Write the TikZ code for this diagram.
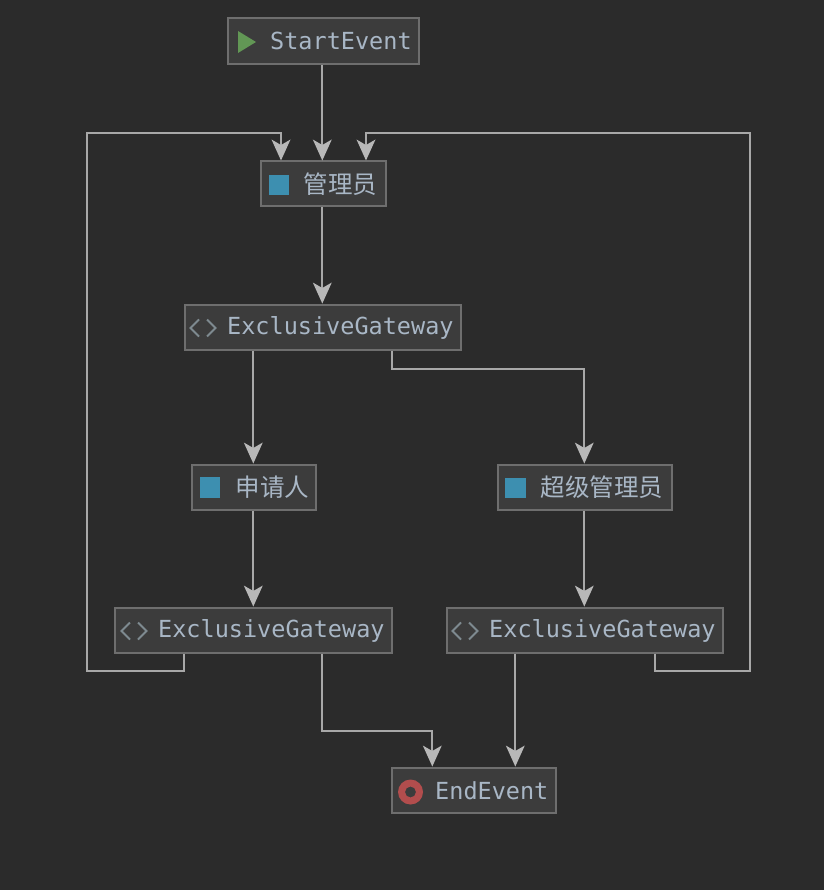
\documentclass[tikz,border=0pt]{standalone}
\usepackage{fontspec}
\setmonofont{DejaVu Sans Mono}
\newfontfamily\cjkfont{Noto Sans CJK SC}
\usetikzlibrary{arrows.meta,calc}
\definecolor{bgc}{HTML}{2B2B2B}
\definecolor{boxc}{HTML}{3C3C3C}
\definecolor{edgec}{HTML}{6E6E6E}
\definecolor{linec}{HTML}{A8A8A8}
\definecolor{headc}{HTML}{B8B8B8}
\definecolor{textc}{HTML}{A9B7C6}
\definecolor{iconc}{HTML}{7E8A90}
\definecolor{greenc}{HTML}{629755}
\definecolor{bluec}{HTML}{3D8FB0}
\definecolor{redc}{HTML}{B24D4D}
\tikzset{
  x=1pt,y=-1pt,
  flowbox/.style={draw=edgec,fill=boxc,line width=2pt,inner sep=0pt},
  lab/.style={anchor=west,inner sep=0pt,text=textc,font=\ttfamily\fontsize{23.5}{26}\selectfont},
  cjk/.style={anchor=west,inner sep=0pt,text=textc,font=\cjkfont\fontsize{24.5}{26}\selectfont},
  conn/.style={draw=linec,line width=2pt,-{Stealth[length=21pt,width=19pt,inset=5.5pt,color=headc,fill=headc,line width=0pt]}},
  chev/.style={draw=iconc,line width=1.8pt,line cap=butt},
}
\newcommand{\bx}[5]{\node[flowbox,minimum width=#4-#2-1,minimum height=#5-#3-1,anchor=center] (#1) at ({(#2+#4)/2},{(#3+#5)/2}) {};}
\newcommand{\gwicon}[2]{%
  \draw[chev] (#1+8.5,#2-8.5) -- (#1,#2) -- (#1+8.5,#2+8.5);
  \draw[chev] (#1+16.5,#2-8.5) -- (#1+25,#2) -- (#1+16.5,#2+8.5);}
\begin{document}
\begin{tikzpicture}
\useasboundingbox (0,0) rectangle (824,890);
\fill[bgc] (0,0) rectangle (824,890);
% free bend points of the connectors
\coordinate (la) at (87.2,671);
\coordinate (lb) at (87.2,133);
\coordinate (ra) at (750,671);
\coordinate (rb) at (750,133);
% boxes
\bx{start}{227}{18}{419}{65}
\bx{admin}{260}{161}{386}{207}
\bx{gwa}{184}{304}{461}{350}
\bx{appl}{191}{464}{316}{510}
\bx{sup}{497}{464}{672}{510}
\bx{gwb}{114}{607}{392}{653}
\bx{gwc}{446}{607}{723}{653}
\bx{endn}{391}{767}{556}{813}
% connectors
\draw[conn] (322.3,0 |- start.south) -- (322.3,0 |- admin.north);
\draw[conn] (322.3,0 |- admin.south) -- (322.3,0 |- gwa.north);
\draw[conn] (253.3,0 |- gwa.south) -- (253.3,0 |- appl.north);
\draw[conn] (392,0 |- gwa.south) |- (584.3,368.5) -- (584.3,0 |- sup.north);
\draw[conn] (253.3,0 |- appl.south) -- (253.3,0 |- gwb.north);
\draw[conn] (584.3,0 |- sup.south) -- (584.3,0 |- gwc.north);
\draw[conn] (184,0 |- gwb.south) |- (la) -- (lb) -- (281,133) -- (281,0 |- admin.north);
\draw[conn] (655,0 |- gwc.south) |- (ra) -- (rb) -- (366,133) -- (366,0 |- admin.north);
\draw[conn] (322.3,0 |- gwb.south) |- (432.3,731) -- (432.3,0 |- endn.north);
\draw[conn] (515.3,0 |- gwc.south) -- (515.3,0 |- endn.north);
% icons
\fill[greenc] (238,31) -- (256,42) -- (238,53) -- cycle;
\fill[bluec] (269,175) rectangle (289,195);
\fill[bluec] (200,477) rectangle (220,498);
\fill[bluec] (505,478) rectangle (526,498);
\gwicon{190.5}{328}
\gwicon{121.5}{631}
\gwicon{452.5}{631}
\fill[redc,even odd rule] (410.5,792) circle (12.5) (410.5,792) circle (5.5);
% text
\node[lab] (t1) at (270,41) {StartEvent};
\node[cjk] (t2) at (303.5,184) {管理员};
\node[lab] (t3) at (227,328) {ExclusiveGateway};
\node[cjk] (t4) at (235.5,487) {申请人};
\node[cjk] (t5) at (540.5,487) {超级管理员};
\node[lab] (t6) at (158,631) {ExclusiveGateway};
\node[lab] (t7) at (489,631) {ExclusiveGateway};
\node[lab] (t8) at (435,791) {EndEvent};
\end{tikzpicture}
\end{document}
